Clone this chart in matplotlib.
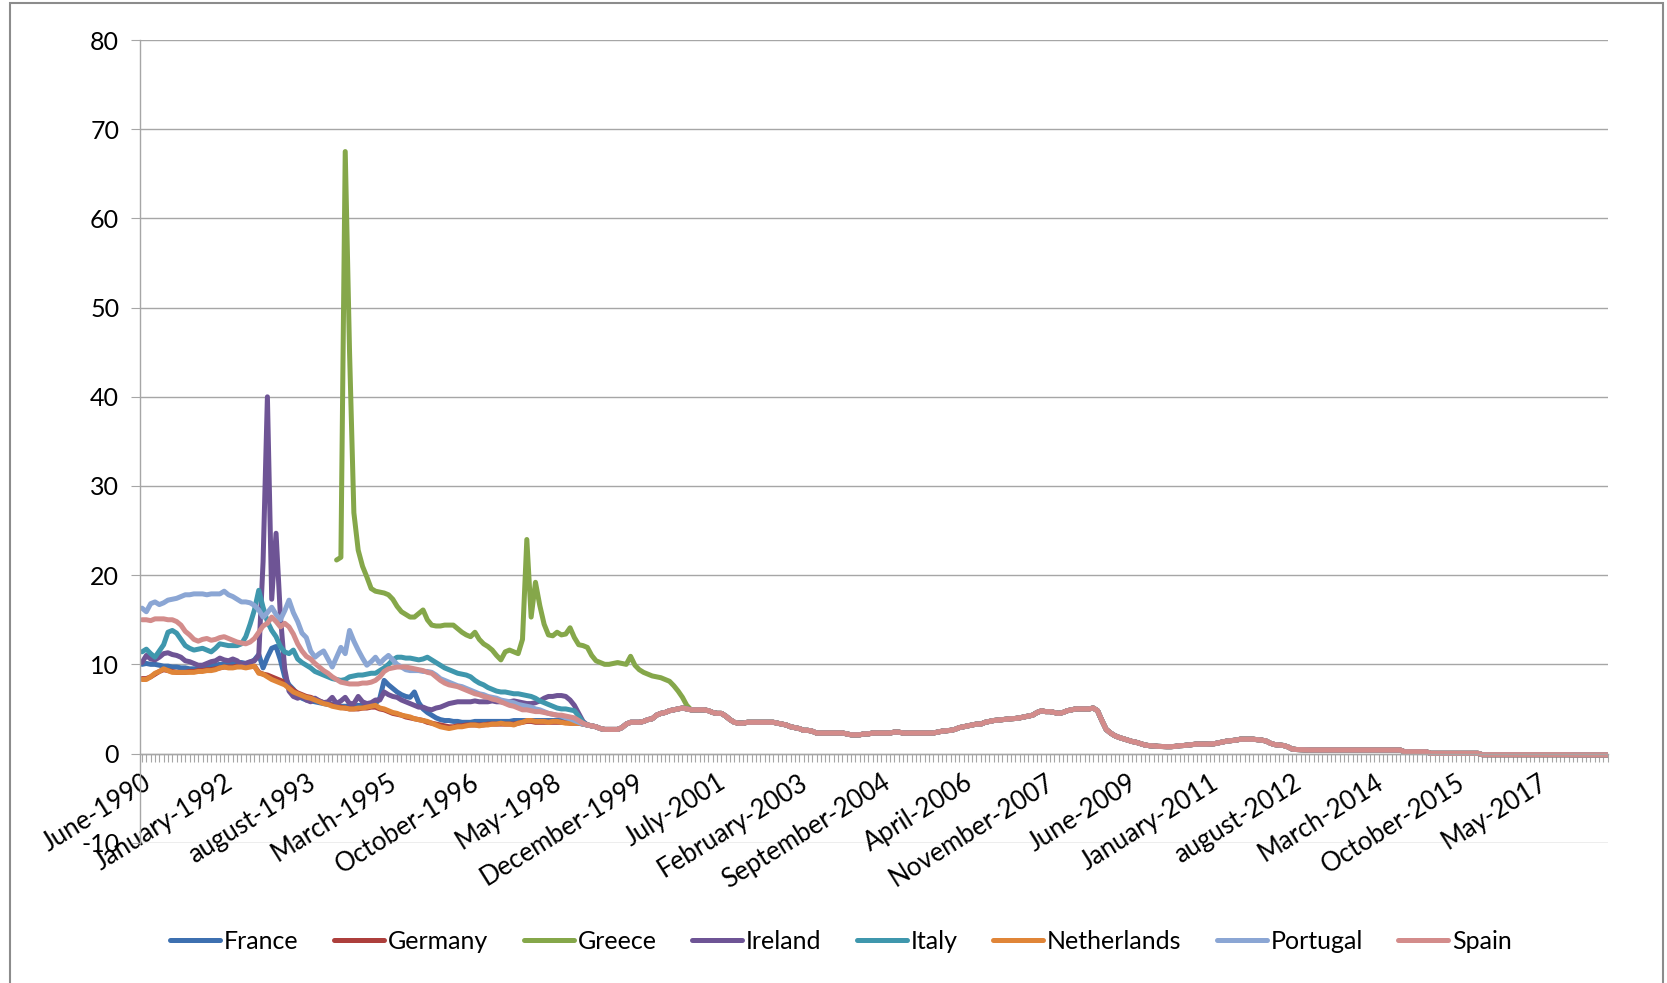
import matplotlib
matplotlib.use("Agg")
import matplotlib.pyplot as plt
from matplotlib.patches import Rectangle
from matplotlib.ticker import FixedLocator

plt.rcParams['font.family'] = ['Lato', 'DejaVu Sans']
plt.rcParams['axes.unicode_minus'] = False

# ----- Data (monthly, index 0 = June 1990) -----
countries = ["France", "Germany", "Greece", "Ireland", "Italy", "Netherlands", "Portugal", "Spain"]
colors = ["#3d70b0", "#ad3f3c", "#85a74a", "#6e5495", "#3f97ad", "#e08538", "#8ba6d4", "#d38c8b"]

tick_labels = ["June-1990", "January-1992", "august-1993", "March-1995", "October-1996",
               "May-1998", "December-1999", "July-2001", "February-2003", "September-2004",
               "April-2006", "November-2007", "June-2009", "January-2011", "august-2012",
               "March-2014", "October-2015", "May-2017"]

# national rates, June 1990 - December 1998
france = [10.0, 10.1, 10.0, 10.0, 9.9, 9.8, 9.8, 9.7, 9.7, 9.6, 9.6, 9.5,
          9.5, 9.5, 9.6, 9.7, 9.8, 9.9, 10.0, 10.0, 10.0, 10.1, 10.2, 10.2,
          10.1, 10.2, 10.5, 11.1, 9.6, 10.8, 11.8, 12.0, 10.5, 8.6, 7.7, 7.2,
          6.6, 6.2, 6.0, 5.9, 5.8, 5.7, 5.6, 5.5, 5.5, 5.4, 5.3, 5.3,
          5.3, 5.3, 5.4, 5.4, 5.5, 5.5, 5.6, 6.2, 8.2, 7.7, 7.3, 6.9,
          6.6, 6.4, 6.3, 6.9, 5.7, 5.0, 4.6, 4.3, 4.0, 3.8, 3.7, 3.7,
          3.6, 3.6, 3.5, 3.5, 3.5, 3.6, 3.6, 3.6, 3.6, 3.6, 3.6, 3.6,
          3.6, 3.6, 3.7, 3.7, 3.7, 3.7, 3.7, 3.7, 3.7, 3.7, 3.7, 3.7,
          3.7, 3.7, 3.6, 3.6, 3.6, 3.5, 3.3]
germany = [8.4, 8.4, 8.6, 8.9, 9.2, 9.4, 9.3, 9.2, 9.1, 9.1, 9.1, 9.2,
           9.2, 9.3, 9.3, 9.4, 9.4, 9.5, 9.6, 9.7, 9.7, 9.7, 9.8, 9.8,
           9.7, 9.8, 9.8, 9.1, 8.9, 8.8, 8.6, 8.4, 8.2, 8.0, 7.5, 7.1,
           6.8, 6.6, 6.4, 6.3, 6.1, 5.9, 5.7, 5.6, 5.4, 5.3, 5.2, 5.1,
           5.0, 5.0, 5.0, 5.1, 5.1, 5.2, 5.2, 5.0, 4.9, 4.7, 4.5, 4.4,
           4.3, 4.1, 4.0, 3.9, 3.8, 3.7, 3.5, 3.4, 3.3, 3.2, 3.1, 3.0,
           3.0, 3.1, 3.1, 3.2, 3.2, 3.2, 3.2, 3.2, 3.3, 3.3, 3.3, 3.3,
           3.3, 3.3, 3.3, 3.4, 3.5, 3.6, 3.6, 3.5, 3.5, 3.5, 3.5, 3.5,
           3.5, 3.5, 3.5, 3.4, 3.4, 3.4, 3.3]
ireland = [10.2, 11.0, 10.6, 10.5, 10.8, 11.2, 11.3, 11.1, 11.0, 10.8, 10.4, 10.3,
           10.1, 9.9, 9.9, 10.1, 10.3, 10.4, 10.7, 10.5, 10.4, 10.6, 10.4, 10.0,
           10.1, 10.3, 10.4, 11.0, 21.5, 40.0, 17.3, 24.7, 15.5, 9.5, 7.0, 6.4,
           6.2, 6.4, 6.0, 5.8, 6.2, 5.9, 5.7, 5.8, 6.3, 5.6, 5.9, 6.3,
           5.6, 5.6, 6.4, 5.8, 5.6, 5.7, 6.0, 6.0, 6.9, 6.6, 6.4, 6.3,
           6.0, 5.8, 5.6, 5.4, 5.2, 5.2, 5.0, 4.9, 5.1, 5.2, 5.4, 5.6,
           5.7, 5.8, 5.8, 5.8, 5.8, 5.9, 5.8, 5.8, 5.8, 5.9, 5.8, 5.8,
           5.7, 5.8, 5.9, 5.8, 5.7, 5.6, 5.6, 5.7, 5.9, 6.2, 6.4, 6.4,
           6.5, 6.5, 6.4, 6.0, 5.4, 4.5, 3.6]
italy = [11.4, 11.7, 11.2, 10.8, 11.5, 12.2, 13.6, 13.8, 13.5, 12.8, 12.1, 11.8,
         11.6, 11.7, 11.8, 11.6, 11.4, 11.8, 12.3, 12.2, 12.1, 12.1, 12.1, 12.3,
         13.1, 14.5, 16.1, 18.3, 16.4, 14.8, 13.8, 13.1, 12.0, 11.4, 11.2, 11.6,
         10.6, 10.2, 9.9, 9.6, 9.2, 9.0, 8.8, 8.6, 8.4, 8.3, 8.2, 8.3,
         8.6, 8.7, 8.8, 8.8, 8.9, 9.0, 9.0, 9.3, 9.6, 10.0, 10.5, 10.8,
         10.8, 10.7, 10.7, 10.6, 10.5, 10.6, 10.8, 10.5, 10.2, 9.9, 9.6, 9.4,
         9.2, 9.0, 8.9, 8.8, 8.6, 8.2, 7.9, 7.7, 7.4, 7.2, 7.0, 6.9,
         6.9, 6.8, 6.7, 6.7, 6.6, 6.5, 6.4, 6.2, 5.9, 5.7, 5.5, 5.3,
         5.1, 5.0, 5.0, 4.9, 4.8, 4.2, 3.5]
netherlands = [8.3, 8.3, 8.6, 9.0, 9.2, 9.5, 9.3, 9.1, 9.1, 9.1, 9.1, 9.1,
               9.1, 9.2, 9.2, 9.3, 9.3, 9.4, 9.6, 9.7, 9.6, 9.6, 9.7, 9.7,
               9.6, 9.7, 9.8, 9.0, 8.9, 8.6, 8.3, 8.1, 7.9, 7.7, 7.3, 6.9,
               6.7, 6.5, 6.3, 6.2, 6.0, 5.8, 5.6, 5.5, 5.3, 5.2, 5.1, 5.1,
               5.0, 5.0, 5.1, 5.1, 5.2, 5.3, 5.4, 5.1, 5.0, 4.8, 4.6, 4.5,
               4.3, 4.2, 4.1, 3.9, 3.8, 3.7, 3.6, 3.4, 3.2, 3.0, 2.9, 2.8,
               2.9, 3.0, 3.0, 3.1, 3.2, 3.2, 3.1, 3.2, 3.2, 3.3, 3.3, 3.4,
               3.3, 3.3, 3.2, 3.4, 3.5, 3.7, 3.7, 3.6, 3.6, 3.6, 3.5, 3.6,
               3.6, 3.5, 3.4, 3.4, 3.4, 3.4, 3.3]
portugal = [16.3, 15.9, 16.8, 17.0, 16.7, 16.9, 17.2, 17.3, 17.4, 17.6, 17.8, 17.8,
            17.9, 17.9, 17.9, 17.8, 17.9, 17.9, 17.9, 18.2, 17.8, 17.6, 17.3, 17.0,
            17.0, 16.9, 16.6, 16.1, 15.3, 15.8, 16.4, 15.6, 15.0, 16.0, 17.2, 15.8,
            14.8, 13.5, 13.0, 11.5, 10.8, 11.2, 11.5, 10.6, 9.7, 10.8, 11.9, 11.2,
            13.8, 12.6, 11.6, 10.7, 9.9, 10.3, 10.8, 10.1, 10.6, 11.0, 10.5, 10.0,
            9.7, 9.4, 9.3, 9.3, 9.3, 9.2, 9.2, 9.1, 8.8, 8.4, 8.2, 8.0,
            7.8, 7.6, 7.5, 7.3, 7.1, 6.9, 6.7, 6.6, 6.4, 6.3, 6.2, 6.0,
            5.9, 5.8, 5.7, 5.5, 5.4, 5.3, 5.2, 5.0, 4.9, 4.7, 4.5, 4.4,
            4.3, 4.2, 4.0, 3.9, 3.7, 3.5, 3.3]
spain = [15.0, 15.0, 14.9, 15.1, 15.1, 15.1, 15.0, 15.0, 14.8, 14.4, 13.7, 13.3,
         12.8, 12.6, 12.8, 12.9, 12.7, 12.8, 13.0, 13.1, 12.9, 12.7, 12.5, 12.4,
         12.3, 12.5, 12.9, 13.6, 14.3, 14.6, 15.3, 14.8, 14.2, 14.6, 14.2, 13.4,
         12.3, 11.5, 10.9, 10.6, 10.1, 9.7, 9.3, 9.0, 8.6, 8.3, 8.0, 7.9,
         7.8, 7.8, 7.8, 7.9, 7.9, 8.0, 8.2, 8.6, 9.2, 9.5, 9.6, 9.7,
         9.7, 9.7, 9.6, 9.5, 9.4, 9.3, 9.1, 9.0, 8.6, 8.2, 7.9, 7.7,
         7.6, 7.5, 7.3, 7.1, 6.9, 6.7, 6.6, 6.4, 6.3, 6.1, 6.0, 5.8,
         5.6, 5.4, 5.3, 5.1, 4.9, 4.9, 4.8, 4.7, 4.7, 4.6, 4.5, 4.4,
         4.3, 4.3, 4.2, 4.1, 4.0, 3.7, 3.4]

# Greece: April 1994 (index 45) - December 2000
greece_start = 45
greece = [21.7, 22.0, 67.5, 45.0, 27.0, 22.8, 21.0,
          19.8, 18.5, 18.2, 18.1, 18.0, 17.8, 17.3, 16.5, 15.9, 15.6, 15.3, 15.3,
          15.7, 16.1, 15.0, 14.4, 14.3, 14.3, 14.4, 14.4, 14.4, 14.0, 13.6, 13.3,
          13.1, 13.6, 12.8, 12.3, 12.0, 11.6, 11.0, 10.5, 11.4, 11.6, 11.4, 11.2,
          12.8, 24.0, 15.3, 19.2, 16.6, 14.5, 13.3, 13.2, 13.6, 13.3, 13.4, 14.1,
          13.0, 12.2, 12.1, 11.9, 11.0, 10.4, 10.2, 10.0, 10.0, 10.1, 10.2, 10.1,
          10.0, 10.9, 9.9, 9.4, 9.1, 8.9, 8.7, 8.6, 8.5, 8.3, 8.1, 7.6,
          7.0, 6.3, 5.4]

# common euro rate, January 1999 - September 2018
euro_start = 103
euro = [3.2, 3.1, 3.0, 2.8, 2.7, 2.7, 2.7, 2.7, 2.9, 3.3, 3.5, 3.5,
        3.5, 3.6, 3.8, 3.9, 4.3, 4.5, 4.6, 4.8, 4.9, 5.0, 5.1, 5.0,
        4.9, 4.9, 4.9, 4.9, 4.8, 4.6, 4.5, 4.5, 4.2, 3.8, 3.5, 3.4,
        3.4, 3.5, 3.5, 3.5, 3.5, 3.5, 3.5, 3.5, 3.4, 3.3, 3.2, 3.0,
        2.9, 2.8, 2.6, 2.6, 2.5, 2.3, 2.3, 2.3, 2.3, 2.3, 2.3, 2.3,
        2.2, 2.1, 2.1, 2.1, 2.2, 2.2, 2.3, 2.3, 2.3, 2.3, 2.3, 2.4,
        2.4, 2.3, 2.3, 2.3, 2.3, 2.3, 2.3, 2.3, 2.3, 2.4, 2.5, 2.55,
        2.6, 2.7, 2.9, 3.0, 3.1, 3.2, 3.3, 3.3, 3.5, 3.6, 3.7, 3.75,
        3.8, 3.85, 3.9, 3.93, 4.0, 4.1, 4.2, 4.3, 4.6, 4.78, 4.7, 4.7,
        4.6, 4.5, 4.6, 4.8, 4.9, 5.0, 5.0, 5.0, 5.0, 5.1, 4.8, 3.7,
        2.7, 2.3, 2.0, 1.8, 1.65, 1.5, 1.35, 1.25, 1.1, 0.95, 0.88, 0.85,
        0.8, 0.78, 0.77, 0.77, 0.8, 0.88, 0.9, 0.95, 1.0, 1.06, 1.05, 1.05,
        1.08, 1.1, 1.2, 1.3, 1.4, 1.45, 1.5, 1.6, 1.6, 1.6, 1.6, 1.55,
        1.5, 1.4, 1.15, 1.0, 0.95, 0.9, 0.75, 0.5, 0.45, 0.43, 0.4, 0.4,
        0.4, 0.4, 0.39, 0.39, 0.39, 0.39, 0.39, 0.39, 0.39, 0.39, 0.39, 0.39,
        0.39, 0.39, 0.39, 0.39, 0.39, 0.39, 0.39, 0.39, 0.39, 0.2, 0.2, 0.2,
        0.2, 0.2, 0.2, 0.02, 0.02, 0.02, 0.02, 0.02, 0.02, 0.02, 0.02, 0.02,
        0.02, 0.02, 0.02, -0.13, -0.13, -0.13, -0.13, -0.13, -0.13, -0.13, -0.13, -0.13,
        -0.13, -0.13, -0.13, -0.13, -0.13, -0.13, -0.13, -0.13, -0.13, -0.13, -0.13, -0.13,
        -0.15, -0.15, -0.15, -0.15, -0.15, -0.15, -0.15, -0.15, -0.15]

national = {"France": (0, france), "Germany": (0, germany), "Greece": (greece_start, greece),
            "Ireland": (0, ireland), "Italy": (0, italy), "Netherlands": (0, netherlands),
            "Portugal": (0, portugal), "Spain": (0, spain)}

n_months = euro_start + len(euro)
grid_col = "#a6a6a6"

fig = plt.figure(figsize=(16.67, 9.83), dpi=100)
ax = fig.add_axes([0.0840, 0.14273, 0.88044, 0.81648])

for name, col in zip(countries, colors):
    start, vals = national[name]
    end = start + len(vals)
    xs = list(range(start, n_months))
    ys = list(vals) + euro[end - euro_start:]
    ax.plot(xs, ys, color=col, lw=3.6, solid_joinstyle='round',
            solid_capstyle='round', label=name)

ax.set_xlim(-0.46, n_months - 1)
ax.set_ylim(-10, 80)
ax.set_yticks(range(-10, 81, 10))
ax.yaxis.grid(True, color=grid_col, lw=1.0)
ax.set_axisbelow(True)

for s in ["top", "right"]:
    ax.spines[s].set_visible(False)
ax.spines["left"].set_color(grid_col)
ax.spines["left"].set_linewidth(1.0)
ax.spines["bottom"].set_position(("data", 0))
ax.spines["bottom"].set_color(grid_col)
ax.spines["bottom"].set_linewidth(1.0)

major = list(range(0, n_months, 19))[:len(tick_labels)]
ax.xaxis.set_major_locator(FixedLocator(major))
ax.xaxis.set_minor_locator(FixedLocator(range(n_months)))
ax.set_xticklabels(tick_labels, rotation=32, ha='right', rotation_mode='anchor', fontsize=18.5)
ax.tick_params(axis='x', which='both', direction='out', length=5.8, width=0.8,
               color=grid_col, pad=6)
ax.tick_params(axis='y', direction='out', length=6.5, width=0.8, color=grid_col,
               labelsize=18, pad=8.5)

fig.legend(loc='center', bbox_to_anchor=(0.5046, 0.0420), ncol=8, frameon=False,
           fontsize=18, handlelength=2.0, handletextpad=0.15, columnspacing=1.42)

fig.patches.append(Rectangle((10 / 1667, -0.05), 1653 / 1667, 1.05 - 3 / 983,
                             transform=fig.transFigure, fill=False,
                             ec="#8c8c8c", lw=1.5))

fig.savefig("out.png", dpi=100)
